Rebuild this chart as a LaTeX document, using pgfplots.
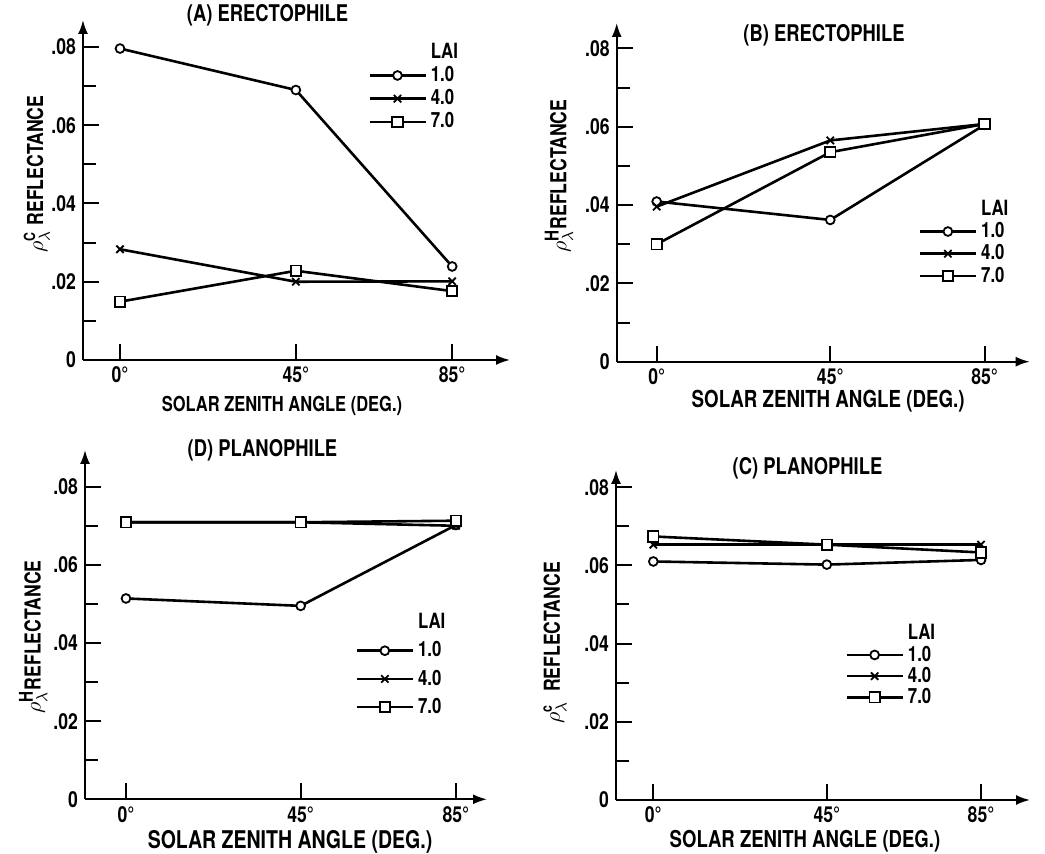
\documentclass[border=0pt]{standalone}
\usepackage{amsmath}
\usepackage{fontspec}
\setmainfont{TeX Gyre Heros}[FakeStretch=0.8]
\usepackage{pgfplots}
\pgfplotsset{compat=1.18}
\usetikzlibrary{arrows.meta}

\pgfplotsset{
  panel/.style={
    scale only axis, axis lines=left, clip=false,
    axis line style={line width=1pt,-{Latex[length=7pt,width=5pt]}},
    ymin=0, xtick={0,45,85}, xticklabels={0°,45°,85°},
    ytick={0,0.02,0.04,0.06,0.08}, yticklabels={0,.02,.04,.06,.08},
    minor ytick={0.01,0.03,0.05,0.07}, scaled y ticks=false,
    tick align=inside, major tick length=8pt, minor tick length=6.5pt,
    every tick/.style={line width=1pt,black},
    font=\fontsize{11}{13}\selectfont\bfseries,
    ticklabel style={font=\fontsize{11}{13}\selectfont\bfseries},
    every axis title shift=0pt,
    title style={font=\fontsize{11.5}{13}\selectfont\bfseries, anchor=center},
    xlabel style={anchor=center},
    ylabel style={anchor=center, rotate=0},
    legend cell align=left,
    legend style={draw=none, fill=none, anchor=north west, inner sep=0pt,
      font=\fontsize{10.5}{12}\selectfont\bfseries},
    legend image code/.code={
      \draw[mark repeat=2,mark phase=2,#1] plot coordinates {(0pt,0pt)(14pt,0pt)(28pt,0pt)};},
    every axis plot/.append style={line width=1.3pt, black},
  },
  lai1/.style={mark=*, mark size=2.2pt, mark options={solid,fill=white,line width=0.9pt}},
  lai4/.style={mark=x, mark size=2.6pt, mark options={solid,line width=0.9pt}},
  lai7/.style={mark=square*, mark size=2.6pt, mark options={solid,fill=white,line width=0.9pt}},
}
\newcommand{\bigH}{\text{\fontsize{9.5}{11}\selectfont\bfseries H}}

\begin{document}
\begin{tikzpicture}
\useasboundingbox (0,0) rectangle (522.5pt,427pt);

% (A) erectophile, canopy reflectance
\begin{axis}[panel, at={(41.5pt,247pt)}, anchor=south west,
  width=213.5pt, height=170pt, xmin=-9.47, xmax=99.8, ymax=0.0869,
  title={(A) ERECTOPHILE}, title style={at={(axis description cs:0.432,1.015)}},
  xlabel={SOLAR ZENITH ANGLE (DEG.)},
  xlabel style={at={(axis description cs:0.466,0)}, yshift=-23pt, font=\fontsize{10.3}{12}\selectfont\bfseries},
  ylabel={$\rho^{\text{C}}_{\lambda}$\ REFLECTANCE},
  ylabel style={at={(axis description cs:-0.108,0.547)}},
  legend style={at={(axis description cs:0.667,0.945)}, row sep=-1.5pt}]
\addlegendimage{empty legend}\addlegendentry{LAI}
\addplot[lai1] coordinates {(0,0.0796)(45,0.0690)(85,0.0239)};
\addlegendentry{1.0}
\addplot[lai4] coordinates {(0,0.0283)(45,0.0200)(85,0.0201)};
\addlegendentry{4.0}
\addplot[lai7] coordinates {(0,0.0149)(45,0.0228)(85,0.0176)};
\addlegendentry{7.0}
\end{axis}

% (B) erectophile, hemispherical reflectance
\begin{axis}[panel, at={(308.35pt,246.15pt)}, anchor=south west,
  width=206.5pt, height=169.35pt, xmin=-10.36, xmax=96.7, ymax=0.0865,
  title={(B) ERECTOPHILE}, title style={at={(axis description cs:0.502,0.965)}},
  xlabel={SOLAR ZENITH ANGLE (DEG.)},
  xlabel style={at={(axis description cs:0.512,0)}, yshift=-19.5pt, font=\fontsize{11.7}{13}\selectfont\bfseries},
  ylabel={$\rho^{\bigH}_{\lambda}$REFLECTANCE},
  ylabel style={at={(axis description cs:-0.14,0.548)}},
  legend style={at={(axis description cs:0.73,0.49)}, row sep=-2pt}]
\addlegendimage{empty legend}\addlegendentry{LAI}
\addplot[lai1] coordinates {(0,0.0409)(45,0.0362)(85,0.0605)};
\addlegendentry{1.0}
\addplot[lai4] coordinates {(0,0.0396)(45,0.0565)(85,0.0607)};
\addlegendentry{4.0}
\addplot[lai7] coordinates {(0,0.0300)(45,0.0535)(85,0.0607)};
\addlegendentry{7.0}
\end{axis}

% (D) planophile, hemispherical reflectance
\begin{axis}[panel, at={(42.5pt,27.35pt)}, anchor=south west,
  width=201pt, height=174.65pt, xmin=-10.56, xmax=93, ymax=0.0894,
  title={(D) PLANOPHILE}, title style={at={(axis description cs:0.4415,1.0)}},
  xlabel={SOLAR ZENITH ANGLE (DEG.)},
  xlabel style={at={(axis description cs:0.51,0)}, yshift=-21.2pt, font=\fontsize{12.2}{14}\selectfont\bfseries},
  ylabel={$\rho^{\bigH}_{\lambda}$REFLECTANCE},
  ylabel style={at={(axis description cs:-0.129,0.465)}},
  legend style={at={(axis description cs:0.672,0.545)}, row sep=1pt}]
\addlegendimage{empty legend}\addlegendentry{LAI}
\addplot[lai1] coordinates {(0,0.0514)(45,0.0495)(85,0.0702)};
\addlegendentry{1.0}
\addplot[lai4] coordinates {(0,0.0709)(45,0.0709)(85,0.0700)};
\addlegendentry{4.0}
\addplot[lai7] coordinates {(0,0.0709)(45,0.0709)(85,0.0713)};
\addlegendentry{7.0}
\end{axis}

% (C) planophile, canopy reflectance
\begin{axis}[panel, at={(308pt,27pt)}, anchor=south west,
  width=207pt, height=165pt, xmin=-9.68, xmax=97.7, ymax=0.0844,
  title={(C) PLANOPHILE}, title style={at={(axis description cs:0.4626,1.005)}},
  xlabel={SOLAR ZENITH ANGLE (DEG.)},
  xlabel style={at={(axis description cs:0.4565,0)}, yshift=-20.4pt, font=\fontsize{11.6}{13}\selectfont\bfseries},
  ylabel={$\rho^{\text{c}}_{\lambda}$\ \ REFLECTANCE},
  ylabel style={at={(axis description cs:-0.147,0.476)}},
  legend style={at={(axis description cs:0.553,0.545)}, row sep=-2.5pt}]
\addlegendimage{empty legend}\addlegendentry{LAI}
\addplot[lai1] coordinates {(0,0.0610)(45,0.0602)(85,0.0614)};
\addlegendentry{1.0}
\addplot[lai4] coordinates {(0,0.0653)(45,0.0653)(85,0.0653)};
\addlegendentry{4.0}
\addplot[lai7] coordinates {(0,0.0674)(45,0.0653)(85,0.0633)};
\addlegendentry{7.0}
\end{axis}
\end{tikzpicture}
\end{document}
